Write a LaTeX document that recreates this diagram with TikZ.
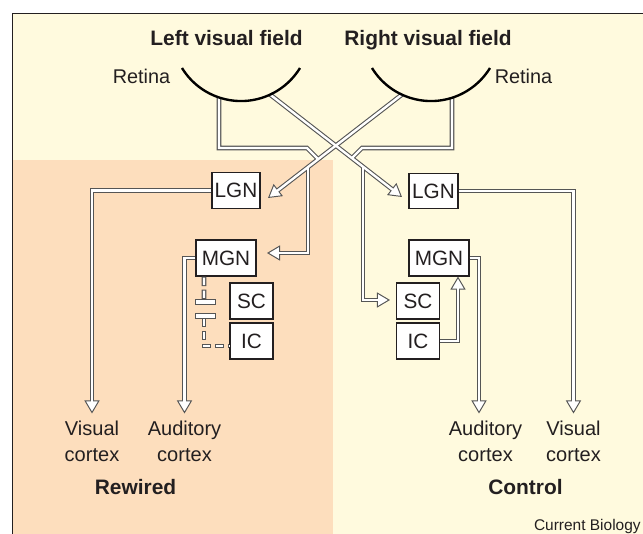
\documentclass[tikz,border=0pt]{standalone}
\usepackage{fontspec}
\setmainfont{Liberation Sans}
\usetikzlibrary{arrows.meta}

\definecolor{cream}{RGB}{255,250,222}
\definecolor{peach}{RGB}{253,222,189}
\definecolor{tractgray}{RGB}{85,85,85}
\definecolor{ink}{RGB}{35,31,32}

\tikzset{
  nucleus/.style={draw=ink, line width=0.65pt, fill=white, inner sep=0pt,
    minimum height=0.72cm, font=\fontsize{11.8}{14}\selectfont},
  heading/.style={anchor=base, inner sep=0pt, font=\fontsize{11.9}{14}\selectfont\bfseries},
  plainlabel/.style={anchor=base, inner sep=0pt, font=\fontsize{11.3}{14}\selectfont},
  cortex/.style={anchor=north, align=center, inner sep=4.2pt,
    font=\fontsize{11.4}{14.7}\selectfont},
  tractedge/.style={draw=tractgray, line width=2.6pt},
  tractcore/.style={draw=white, line width=1.36pt},
  arrowhead/.style={-{Triangle[length=7.4pt,width=8.6pt,fill=white,line width=0.55pt]}},
  arrowgap/.style={shorten >=3.4pt},
  dashedge/.style={tractedge, dash pattern=on 5.39pt off 1.98pt},
  dashcore/.style={tractcore, dash pattern=on 4.25pt off 3.12pt, dash phase=6.80pt},
  cutbar/.style={draw=tractgray, fill=white, line width=0.55pt},
}

% every tract is drawn twice: grey edges first, white cores on top
\newcommand{\tractpaths}[2]{%
  \draw[#1] (fibreLa) |- (bendL) -- (joinL);
  \draw[#1] (fibreRa) |- (bendR) -- (joinR);
  \draw[#1,#2] (fibreRb) -- (tipLgnL);
  \draw[#1,#2] (fibreLb) -- (tipLgnR);
  \draw[#1,#2] (branchL) |- (tipMgnL);
  \draw[#1,#2] (branchR) |- (tipScR);
  \draw[#1,#2] (lgnL.west) -| (vcL.north);
  \draw[#1,#2] (mgnL.west) -| (acL.north);
  \draw[#1,#2] (lgnR.east) -| (vcR.north);
  \draw[#1,#2] (mgnR.east) -| ([xshift=-0.13cm]acR.north);
  \draw[#1,#2] (icR.east) -| ([xshift=0.38cm]mgnR.south);
}

\begin{document}
\begin{tikzpicture}[line cap=butt, line join=miter, text=ink]
  \useasboundingbox (0,0) rectangle (12.86,-10.68);
  \fill[white] (0,0) rectangle (12.86,-10.68);
  \fill[cream] (0.246,-0.27) rectangle (12.86,-10.68);
  \fill[peach] (0.246,-3.19) rectangle (6.66,-10.68);
  \draw[draw=ink, line width=0.6pt] (0.246,-10.68) -- (0.246,-0.27) -- (12.86,-0.27);

  \node[heading] (fieldL) at (4.53,-0.91) {Left visual field};
  \node[heading] (fieldR) at (8.56,-0.91) {Right visual field};
  \node[plainlabel] (retinaL) at (2.83,-1.666) {Retina};
  \node[plainlabel] (retinaR) at (10.47,-1.666) {Retina};

  \node[nucleus, minimum width=0.96cm, minimum height=0.71cm] (lgnL) at (4.72,-3.81) {LGN};
  \node[nucleus, minimum width=0.98cm, minimum height=0.71cm] (lgnR) at (8.67,-3.82) {LGN};
  \node[nucleus, minimum width=1.2cm] (mgnL) at (4.52,-5.16) {MGN};
  \node[nucleus, minimum width=1.2cm] (mgnR) at (8.78,-5.16) {MGN};
  \node[nucleus, minimum width=0.86cm] (scL) at (5.03,-6.02) {SC};
  \node[nucleus, minimum width=0.86cm] (icL) at (5.03,-6.82) {IC};
  \node[nucleus, minimum width=0.86cm] (scR) at (8.36,-6.02) {SC};
  \node[nucleus, minimum width=0.86cm] (icR) at (8.36,-6.82) {IC};

  \node[cortex] (vcL) at (1.84,-8.27) {Visual\\cortex};
  \node[cortex] (acL) at (3.69,-8.27) {Auditory\\cortex};
  \node[cortex] (acR) at (9.71,-8.27) {Auditory\\cortex};
  \node[cortex] (vcR) at (11.47,-8.27) {Visual\\cortex};

  \node[heading] (rewired) at (2.71,-9.88) {Rewired};
  \node[heading] (control) at (10.51,-9.88) {Control};
  \node[anchor=base east, inner sep=0pt, font=\fontsize{8.8}{10}\selectfont] (source) at (12.82,-10.62) {Current Biology};

  \coordinate (fibreLa) at (4.38,-1.94);
  \coordinate (fibreLb) at (5.40,-1.89);
  \coordinate (fibreRb) at (8.04,-1.89);
  \coordinate (fibreRa) at (9.04,-1.95);
  \coordinate (bendL) at (6.14,-2.96);
  \coordinate (joinL) at (6.368,-3.188);
  \coordinate (bendR) at (7.24,-2.96);
  \coordinate (joinR) at (7.034,-3.166);
  \coordinate (branchL) at (6.16,-3.342);
  \coordinate (branchR) at (7.26,-3.334);
  \coordinate (tipLgnL) at (5.36,-3.96);
  \coordinate (tipLgnR) at (8.04,-3.94);
  \coordinate (tipMgnL) at (5.34,-5.06);
  \coordinate (tipScR) at (7.80,-6.00);
  \coordinate (cutT) at (4.08,-6.0);
  \coordinate (cutB) at (4.08,-6.36);

  \tractpaths{tractedge}{arrowhead}
  \tractpaths{tractcore}{arrowgap}

  \draw[dashedge] ([xshift=-0.44cm]mgnL.south) -- (cutT);
  \draw[dashedge] (cutB) |- ([yshift=-0.1cm]icL.west);
  \draw[dashcore] ([xshift=-0.44cm]mgnL.south) -- (cutT);
  \draw[dashcore] (cutB) |- ([yshift=-0.1cm]icL.west);
  \draw[cutbar] (3.90,-5.995) rectangle (4.31,-6.085);
  \draw[cutbar] (3.90,-6.275) rectangle (4.31,-6.365);

  \draw[line width=1.35pt] (3.64,-1.36) arc[start angle=211.5, end angle=328.5, radius=1.384];
  \draw[line width=1.35pt] (7.44,-1.36) arc[start angle=211.5, end angle=328.5, radius=1.384];
\end{tikzpicture}
\end{document}
